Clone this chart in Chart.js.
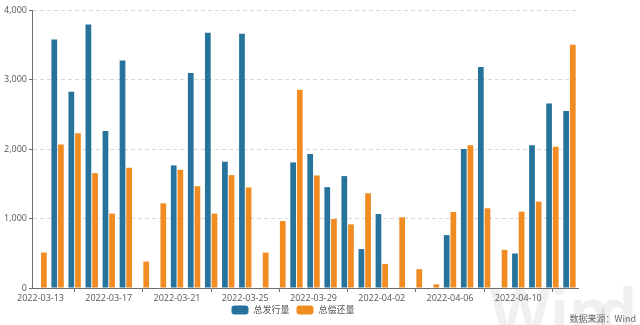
<!DOCTYPE html>
<html>
<head>
<meta charset="utf-8">
<script src="https://cdn.jsdelivr.net/npm/chart.js@4/dist/chart.umd.min.js"></script>
<style>
  html, body { margin:0; padding:0; background:#fff; }
  #wrap { width:640px; height:325px; position:relative; }
</style>
</head>
<body>
<div id="wrap"><canvas id="bondChart"></canvas></div>
<script>
// daily categories
const days = [
  "2022-03-13","2022-03-14","2022-03-15","2022-03-16","2022-03-17","2022-03-18","2022-03-19","2022-03-20",
  "2022-03-21","2022-03-22","2022-03-23","2022-03-24","2022-03-25","2022-03-26","2022-03-27","2022-03-28",
  "2022-03-29","2022-03-30","2022-03-31","2022-04-01","2022-04-02","2022-04-03","2022-04-04","2022-04-05",
  "2022-04-06","2022-04-07","2022-04-08","2022-04-09","2022-04-10","2022-04-11","2022-04-12","2022-04-13"
];
// 总发行量
const issued = [0, 3576, 2824, 3793, 2260, 3272, 0, 0, 1764, 3094, 3672, 1817, 3658, 0, 0, 1807,
  1928, 1451, 1610, 560, 1065, 0, 0, 0, 761, 2000, 3181, 0, 496, 2053, 2655, 2545];
// 总偿还量
const repaid = [510, 2063, 2227, 1653, 1070, 1730, 380, 1219, 1701, 1465, 1070, 1624, 1446, 510, 964, 2853,
  1619, 993, 916, 1364, 347, 1017, 270, 53, 1094, 2053, 1147, 549, 1099, 1243, 2034, 3499];
const yTicks = [0, 1000, 2000, 3000, 4000];

const BLUE = "#27739b";
const ORANGE = "#f08c22";
const AXIS = "#6e6e6e";
const TXT = "#555";

Chart.defaults.font.family = "'Open Sans', 'Noto Sans CJK SC', sans-serif";
Chart.defaults.color = TXT;

// faint logo behind the bars, legend row and source note at the bottom
const decor = {
  id: "decor",
  beforeDraw(chart){
    const c = chart.ctx;
    c.save();
    c.fillStyle = "rgba(0,0,0,0.06)";
    c.font = "bold 62px 'Open Sans', sans-serif";
    c.textBaseline = "alphabetic";
    c.fillText("Win", 490, 334);
    c.fillText("d", 598, 334);
    c.fillRect(587, 314, 8, 9);
    c.restore();
  },
  afterDraw(chart){
    const c = chart.ctx;
    c.save();
    // legend, centred under the plot
    c.font = "9px 'Noto Sans CJK SC', sans-serif";
    c.textBaseline = "middle";
    const items = chart.data.datasets.map(d => ({ text: d.label, color: d.backgroundColor }));
    const boxW = 17, boxH = 9, gapTxt = 5, gapItem = 7;
    const widths = items.map(it => boxW + gapTxt + c.measureText(it.text).width);
    const total = widths.reduce((a, b) => a + b, 0) + gapItem * (items.length - 1);
    let x = (chart.chartArea.left + chart.chartArea.right) / 2 - total / 2 - 12;
    const cy = 310;
    items.forEach((it, i) => {
      c.fillStyle = it.color;
      c.beginPath();
      c.roundRect(x, cy - boxH / 2, boxW, boxH, 3);
      c.fill();
      c.fillStyle = TXT;
      c.textAlign = "left";
      c.fillText(it.text, x + boxW + gapTxt, cy);
      x += widths[i] + gapItem;
    });
    // source note
    c.fillStyle = "#666";
    c.textAlign = "right";
    c.fillText("数据来源：Wind", 636, 319);
    c.restore();
  }
};

const ctx = document.getElementById("bondChart").getContext("2d");
new Chart(ctx, {
  type: "bar",
  data: {
    labels: days,
    datasets: [
      { label: "总发行量", data: issued, backgroundColor: BLUE, categoryPercentage: 0.78, barPercentage: 0.86 },
      { label: "总偿还量", data: repaid, backgroundColor: ORANGE, categoryPercentage: 0.78, barPercentage: 0.86 }
    ]
  },
  options: {
    responsive: true,
    maintainAspectRatio: false,
    animation: false,
    layout: { padding: { top: 10, right: 62, left: 0, bottom: 0 } },
    plugins: {
      tooltip: { enabled: false },
      legend: { display: false }
    },
    scales: {
      x: {
        offset: true,
        afterFit: s => { s.height = 37; },
        grid: {
          offset: false,
          drawOnChartArea: false,
          tickLength: 4,
          tickColor: c => (c.index % 4 === 2 ? AXIS : "rgba(0,0,0,0)")
        },
        border: { color: AXIS },
        ticks: {
          autoSkip: false, maxRotation: 0, minRotation: 0, padding: 1,
          font: { size: 9 }, color: TXT,
          callback: (v, i) => (i % 4 === 0 ? days[i] : "")
        }
      },
      y: {
        min: 0, max: 4000,
        afterBuildTicks: s => { s.ticks = yTicks.map(v => ({ value: v })); },
        afterFit: s => { s.width = 32; },
        grid: {
          color: "#d8d8d8", tickLength: 3,
          tickColor: AXIS, tickBorderDash: [1, 0]
        },
        border: { color: AXIS, dash: [4, 3] },
        ticks: {
          padding: 2, font: { size: 9 }, color: TXT,
          callback: v => v.toLocaleString("en-US")
        }
      }
    }
  },
  plugins: [decor]
});
</script>
</body>
</html>
